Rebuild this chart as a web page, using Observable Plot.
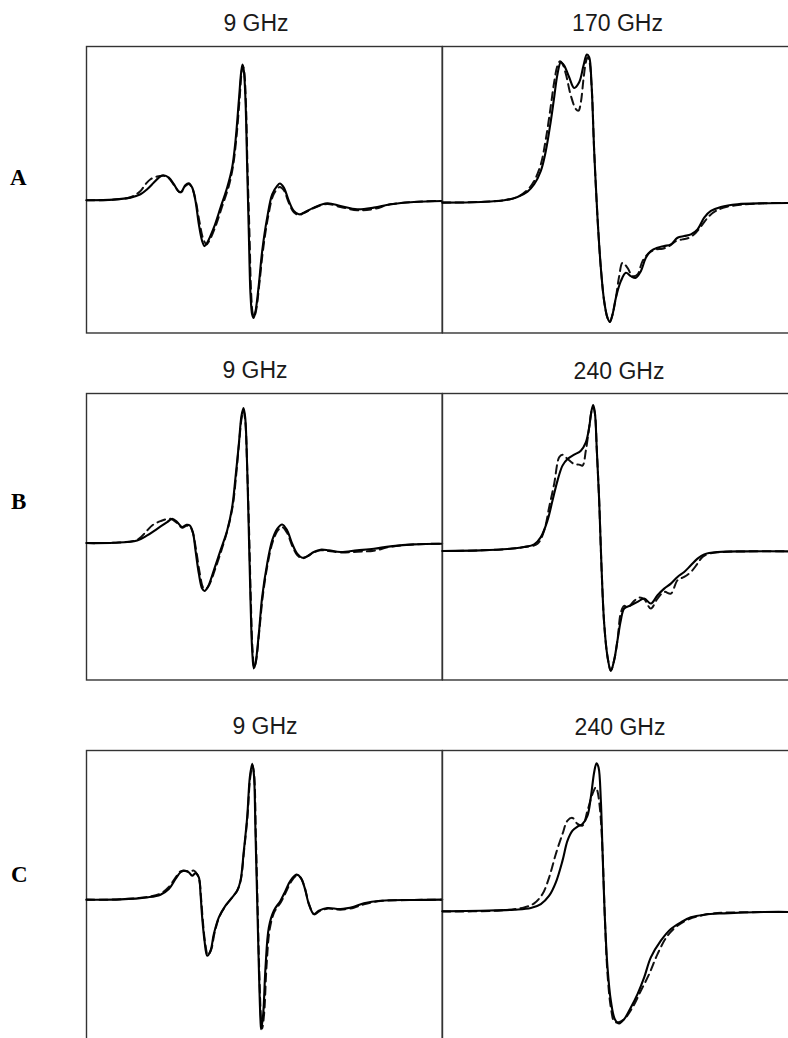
<!DOCTYPE html>
<html><head><meta charset="utf-8">
<script src="https://cdn.jsdelivr.net/npm/d3@7"></script>
<script src="https://cdn.jsdelivr.net/npm/@observablehq/plot@0.6"></script>
<style>
body{margin:0;background:#fff;}
#chart{position:relative;width:788px;height:1038px;overflow:hidden;background:#fff;}
.title{position:absolute;font-family:"Liberation Sans",Arial,sans-serif;font-size:23px;color:#1a1a1a;transform:translateX(-50%);white-space:nowrap;line-height:1;}
.row{position:absolute;font-family:"Liberation Serif","Times New Roman",serif;font-weight:bold;font-size:23px;color:#000;line-height:1;}
.panel{position:absolute;overflow:visible;}
.panel svg{max-width:none !important;display:block;}
</style></head><body><div id="chart"></div><script>
// Field (arbitrary units) vs derivative EPR signal (relative to baseline)
const aLeftSolid = [[0,0],[8.2,0.2],[13.2,0.8],[16.2,1.8],[18.2,3.3],[20.2,5.3],[21.7,6.8],[23.0,7.5],[24.7,6.8],[26.2,4.8],[27.7,2.6],[28.4,2.5],[29.7,4.6],[30.7,5.1],[31.7,3.8],[32.7,-0.2],[33.7,-7.2],[34.7,-12.2],[35.4,-13.7],[36.2,-12.7],[38.2,-8.2],[40.2,-2.2],[42.2,3.8],[43.7,9.8],[44.7,17.8],[45.7,29.8],[46.4,38.3],[46.8,40.6],[47.2,38.8],[47.7,29.8],[48.2,9.8],[48.7,-10.2],[49.2,-28.2],[49.7,-34.2],[50.1,-35.2],[50.7,-33.2],[51.7,-25.2],[52.7,-15.2],[54.2,-5.2],[55.7,1.8],[57.2,4.3],[58.0,5.0],[59.2,3.8],[60.7,-0.2],[62.2,-3.2],[63.7,-4.2],[65.2,-3.7],[68.2,-2.2],[72.2,-0.9],[76.2,-1.7],[81.2,-2.7],[86.2,-2.2],[91.2,-1.2],[98.2,-0.5],[106.7,-0.2]];
const aLeftDashed = [[0,0],[8.2,0.2],[13.2,0.9],[16.2,2.8],[17.7,4.8],[19.2,6.3],[21.2,7.1],[23.2,7.3],[24.7,6.6],[26.2,4.6],[27.7,2.6],[28.4,2.4],[29.7,4.3],[30.7,4.9],[31.7,3.6],[32.7,0.2],[33.9,-6.5],[35.0,-11.5],[36.0,-13.2],[36.9,-12.0],[38.7,-7.8],[40.7,-1.8],[42.7,4.3],[44.0,10.5],[45.0,19.0],[45.9,30.0],[46.5,38.0],[46.9,40.2],[47.3,38.5],[47.8,29.8],[48.3,9.8],[48.9,-10.2],[49.4,-28.0],[49.9,-34.0],[50.3,-34.8],[50.9,-32.8],[51.9,-24.5],[53.0,-14.5],[54.5,-4.8],[56.0,1.5],[57.4,3.6],[58.0,4.0],[59.2,3.0],[60.7,-0.8],[62.2,-3.6],[63.7,-4.4],[65.2,-3.8],[68.2,-2.3],[72.2,-1.1],[76.2,-2.0],[81.2,-3.0],[86.2,-2.6],[91.2,-1.2],[98.2,-0.5],[106.7,-0.2]];
const aRightSolid = [[0,0],[11.5,0.2],[18.5,0.7],[22.5,1.7],[25.5,3.3],[27.5,5.5],[29.5,9.5],[31.0,15.5],[32.5,24.5],[33.5,31.5],[34.5,38.5],[35.5,42.0],[36.5,41.0],[38.0,37.5],[39.5,34.3],[41.0,36.0],[42.3,41.0],[43.3,44.3],[44.0,43.5],[44.7,35.5],[45.5,15.5],[46.5,-4.5],[47.5,-19.5],[48.5,-29.5],[49.5,-34.5],[50.2,-35.7],[51.0,-33.5],[52.0,-28.5],[53.5,-23.5],[55.0,-21.0],[56.5,-22.0],[58.0,-22.5],[59.5,-20.5],[61.0,-16.5],[62.5,-14.5],[64.5,-13.5],[66.5,-13.0],[68.5,-12.5],[70.5,-10.5],[72.5,-10.0],[74.5,-9.5],[76.5,-8.0],[78.5,-4.5],[80.5,-2.5],[83.5,-1.3],[88.5,-0.5],[96.5,-0.2],[106.7,-0.1]];
const aRightDashed = [[0,0],[11.5,0.2],[18.5,0.7],[22.5,1.7],[25.5,3.8],[27.5,6.5],[29.5,11.5],[31.0,19.0],[32.5,29.0],[33.5,36.0],[34.5,41.0],[35.3,42.3],[36.0,41.5],[37.0,38.5],[38.5,32.0],[40.0,28.0],[40.8,27.5],[41.5,30.0],[42.3,37.0],[43.0,42.0],[43.5,43.5],[44.0,42.5],[44.7,35.5],[45.5,15.5],[46.5,-4.5],[47.5,-19.5],[48.5,-29.5],[49.5,-34.5],[50.2,-35.7],[51.0,-33.5],[52.0,-28.5],[53.0,-22.0],[54.0,-18.0],[55.5,-19.5],[57.0,-22.0],[58.5,-21.5],[60.0,-17.5],[62.0,-15.0],[64.0,-14.0],[66.0,-13.8],[68.0,-13.0],[70.0,-11.5],[72.0,-11.0],[74.0,-10.5],[76.0,-9.0],[78.0,-6.5],[80.0,-4.0],[82.0,-2.5],[85.0,-1.3],[90.0,-0.6],[96.5,-0.2],[106.7,-0.1]];
const bLeftSolid = [[0,0],[8.2,0.1],[15.2,0.8],[18.2,2.3],[21.2,4.3],[24.2,6.3],[25.7,7.3],[27.2,6.3],[28.7,4.8],[30.0,5.5],[31.0,5.3],[31.9,3.3],[32.7,-2.2],[33.7,-9.2],[34.7,-13.7],[35.4,-14.4],[36.4,-13.2],[38.2,-8.2],[40.2,-2.2],[42.2,3.8],[43.7,10.8],[44.7,19.8],[45.7,29.8],[46.5,38.3],[47.1,40.6],[47.6,37.8],[48.2,22.8],[48.7,2.8],[49.2,-17.2],[49.7,-32.2],[50.2,-37.7],[50.7,-36.2],[51.7,-27.2],[52.7,-16.2],[54.2,-6.2],[55.7,0.8],[57.2,4.3],[58.7,5.6],[60.2,3.8],[61.7,-0.2],[63.2,-3.2],[64.7,-4.4],[66.2,-4.0],[68.2,-2.7],[70.2,-2.0],[72.7,-2.2],[76.2,-2.7],[81.2,-2.2],[86.2,-1.7],[91.2,-1.0],[98.2,-0.4],[106.7,-0.2]];
const bLeftDashed = [[0,0],[8.2,0.1],[15.2,1.0],[18.2,3.8],[19.7,5.3],[22.2,6.6],[25.2,7.3],[27.2,6.0],[28.7,4.6],[30.0,5.2],[31.0,5.0],[31.9,3.1],[32.9,-2.2],[34.0,-9.2],[35.0,-13.4],[35.8,-13.8],[36.8,-12.6],[38.6,-7.8],[40.6,-1.8],[42.4,4.3],[43.9,11.4],[44.9,20.5],[45.8,30.5],[46.6,38.0],[47.1,39.8],[47.6,37.0],[48.2,22.8],[48.8,2.8],[49.3,-17.2],[49.8,-32.0],[50.3,-37.3],[50.8,-35.8],[51.8,-26.8],[52.9,-15.8],[54.4,-6.0],[55.9,0.5],[57.4,3.8],[58.7,4.8],[60.2,3.0],[61.7,-0.8],[63.2,-3.6],[64.7,-4.6],[66.2,-4.0],[68.2,-2.8],[70.2,-2.2],[72.7,-2.4],[76.2,-2.8],[81.2,-2.6],[86.2,-2.3],[91.2,-1.1],[98.2,-0.4],[106.7,-0.2]];
const bRightSolid = [[0,0],[11.5,0.2],[19.5,0.6],[24.5,1.2],[27.5,2.0],[29.5,4.2],[31.5,9.2],[33.0,15.2],[34.5,21.2],[36.0,25.7],[37.5,27.7],[39.5,29.0],[41.5,30.2],[43.0,32.7],[44.0,37.2],[44.7,42.2],[45.2,43.9],[45.7,41.7],[46.3,30.2],[47.0,15.2],[47.7,-4.8],[48.5,-21.8],[49.5,-31.8],[50.5,-36.0],[51.5,-32.8],[52.5,-26.8],[53.5,-20.8],[54.5,-17.3],[56.5,-16.3],[58.5,-15.3],[60.5,-14.3],[62.5,-15.8],[64.5,-13.3],[66.5,-11.3],[68.5,-9.8],[70.5,-7.8],[72.5,-6.3],[74.5,-4.3],[76.5,-2.3],[78.5,-1.0],[82.5,-0.3],[91.5,-0.1],[106.7,-0.1]];
const bRightDashed = [[0,0],[11.5,0.2],[19.5,0.6],[24.5,1.2],[28.5,2.2],[30.5,6.2],[32.0,13.2],[33.5,20.2],[35.0,28.2],[36.0,29.0],[37.5,27.7],[39.5,26.2],[41.0,26.0],[42.0,25.7],[43.0,30.2],[44.0,37.2],[44.7,42.0],[45.2,43.2],[45.7,41.5],[46.3,30.2],[47.0,15.2],[47.7,-4.8],[48.5,-21.8],[49.5,-31.8],[50.5,-36.0],[51.5,-32.8],[52.5,-26.8],[53.5,-18.5],[54.5,-16.5],[55.5,-17.0],[57.5,-15.0],[59.0,-14.0],[60.5,-14.5],[62.5,-17.3],[64.5,-14.3],[66.5,-12.3],[68.5,-12.8],[70.5,-8.8],[72.5,-7.8],[74.5,-6.3],[76.5,-3.8],[78.0,-1.8],[80.0,-0.8],[84.0,-0.3],[91.5,-0.1],[106.7,-0.1]];
const cLeftSolid = [[0,0],[10.2,0.1],[18.2,0.7],[22.2,1.5],[24.7,3.2],[26.7,6.2],[28.2,8.2],[29.2,8.7],[30.7,8.2],[31.7,7.2],[32.7,7.9],[33.7,6.7],[34.2,1.7],[34.7,-5.3],[35.4,-12.3],[36.2,-16.8],[37.2,-15.3],[38.2,-10.3],[39.7,-5.3],[41.7,-1.8],[43.7,0.7],[45.2,2.7],[46.2,5.7],[47.2,14.7],[48.2,24.7],[49.0,36.7],[49.7,40.7],[50.2,37.7],[50.7,19.7],[51.2,-0.3],[51.7,-20.3],[52.2,-36.3],[52.4,-38.8],[53.0,-34.3],[53.7,-20.3],[54.7,-8.3],[56.2,-3.3],[58.2,-0.3],[59.7,2.7],[61.2,5.7],[63.0,7.5],[64.2,6.7],[65.4,3.7],[66.7,-1.3],[68.2,-4.3],[69.7,-3.3],[72.2,-2.5],[76.2,-2.8],[80.2,-2.1],[83.2,-1.1],[88.2,-0.3],[98.2,-0.1],[106.7,0]];
const cLeftDashed = [[0,0],[10.2,0.1],[18.2,0.8],[22.2,1.8],[24.7,3.8],[26.7,6.6],[28.2,8.5],[29.7,8.6],[31.2,8.5],[32.2,8.7],[33.2,7.6],[33.9,5.5],[34.4,0.2],[34.9,-6.3],[35.6,-13.0],[36.4,-16.6],[37.4,-15.0],[38.4,-10.0],[39.9,-5.0],[41.9,-1.6],[43.9,0.9],[45.3,2.9],[46.3,6.0],[47.3,15.0],[48.3,25.0],[49.1,36.5],[49.8,40.3],[50.3,37.3],[50.8,19.5],[51.3,-0.5],[51.8,-20.5],[52.4,-36.3],[52.7,-38.6],[53.3,-34.0],[54.0,-20.0],[55.0,-8.6],[56.4,-3.6],[58.4,-0.6],[59.9,2.4],[61.4,5.4],[63.1,7.2],[64.3,6.5],[65.5,3.5],[66.8,-1.5],[68.3,-4.4],[69.8,-3.5],[72.2,-2.7],[76.2,-3.0],[80.2,-2.4],[83.2,-1.4],[88.2,-0.4],[98.2,-0.1],[106.7,0]];
const cRightSolid = [[0,0],[11.5,0.2],[21.5,0.5],[26.5,1.0],[29.5,2.2],[32.0,4.7],[34.0,8.7],[36.0,15.2],[37.5,21.2],[39.0,24.2],[40.5,25.4],[42.0,26.2],[43.5,28.7],[44.5,34.2],[45.5,41.7],[46.2,44.4],[46.8,43.2],[47.5,33.2],[48.0,18.2],[48.7,-1.8],[49.5,-16.8],[50.5,-26.8],[51.7,-32.3],[53.0,-33.6],[54.5,-32.3],[56.5,-28.8],[58.5,-24.8],[60.5,-19.8],[62.5,-13.8],[65.5,-8.8],[68.5,-5.3],[71.5,-3.3],[74.5,-1.8],[78.5,-1.0],[84.5,-0.6],[96.5,-0.2],[106.7,-0.2]];
const cRightDashed = [[0,0],[16.5,0.2],[24.5,1.2],[27.5,2.4],[30.0,5.2],[32.0,10.2],[34.0,17.2],[36.0,23.2],[37.5,27.2],[39.0,28.0],[40.5,26.2],[42.0,25.7],[43.5,30.2],[45.0,35.2],[46.0,37.2],[46.5,36.0],[47.3,30.0],[48.0,18.2],[48.7,-1.8],[49.5,-18.8],[50.5,-28.8],[51.5,-33.0],[52.5,-33.3],[54.5,-32.3],[57.0,-28.8],[59.5,-23.8],[62.0,-18.8],[64.5,-12.8],[67.5,-7.3],[70.5,-4.3],[74.0,-2.3],[77.5,-1.3],[81.5,-0.6],[96.5,-0.2],[106.7,-0.2]];

const rowLabels = ["A", "B", "C"];
const panelTitles = [["9 GHz", "170 GHz"], ["9 GHz", "240 GHz"], ["9 GHz", "240 GHz"]];
const solidSeries = [[aLeftSolid, aRightSolid], [bLeftSolid, bRightSolid], [cLeftSolid, cRightSolid]];
const dashedSeries = [[aLeftDashed, aRightDashed], [bLeftDashed, bRightDashed], [cLeftDashed, cRightDashed]];
const fieldDomain = [0, 106.7];
const signalDomains = [[[-39.7, 46.0], [-39.0, 46.7]], [[-41.2, 45.0], [-38.8, 47.4]], [[-42.5, 44.7], [-39.0, 48.2]]];

// layout (px)
const rowTops = [46, 393, 750];
const rowHeights = [286.5, 286.5, 291];
const colLefts = [86, 441.7];
const panelW = 355.7;
const titleTops = [[12, 12], [359, 359.5], [714.5, 715.5]];
const titleCenters = [[256, 617.5], [255, 619], [265, 620]];
const labelTops = [165.7, 490, 863.4];
const labelLefts = [10, 11, 11];

const chart = document.getElementById("chart");
for (let r = 0; r < 3; r++) {
  const lab = document.createElement("div");
  lab.className = "row"; lab.textContent = rowLabels[r];
  lab.style.left = labelLefts[r] + "px"; lab.style.top = labelTops[r] + "px";
  chart.appendChild(lab);
  for (let c = 0; c < 2; c++) {
    const m = 1;
    const W = panelW + 2 * m, H = rowHeights[r] + 2 * m;
    const p = Plot.plot({
      width: W, height: H,
      margin: m,
      x: {domain: fieldDomain, axis: null},
      y: {domain: signalDomains[r][c], axis: null},
      marks: [
        Plot.frame({stroke: "#333", strokeWidth: 1.4}),
        Plot.line(dashedSeries[r][c], {stroke: "#111", strokeWidth: 2, strokeDasharray: "8,5", curve: "catmull-rom"}),
        Plot.line(solidSeries[r][c], {stroke: "#000", strokeWidth: 2.1, curve: "catmull-rom"})
      ]
    });
    p.style.overflow = "visible";
    p.style.maxWidth = "none";
    p.style.width = W + "px";
    p.style.height = H + "px";
    const wrap = document.createElement("div");
    wrap.className = "panel";
    wrap.style.left = (colLefts[c] - m) + "px";
    wrap.style.top = (rowTops[r] - m) + "px";
    wrap.style.width = W + "px";
    wrap.style.height = H + "px";
    wrap.appendChild(p);
    chart.appendChild(wrap);
    const t = document.createElement("div");
    t.className = "title"; t.textContent = panelTitles[r][c];
    t.style.left = titleCenters[r][c] + "px"; t.style.top = titleTops[r][c] + "px";
    chart.appendChild(t);
  }
}
</script></body></html>
